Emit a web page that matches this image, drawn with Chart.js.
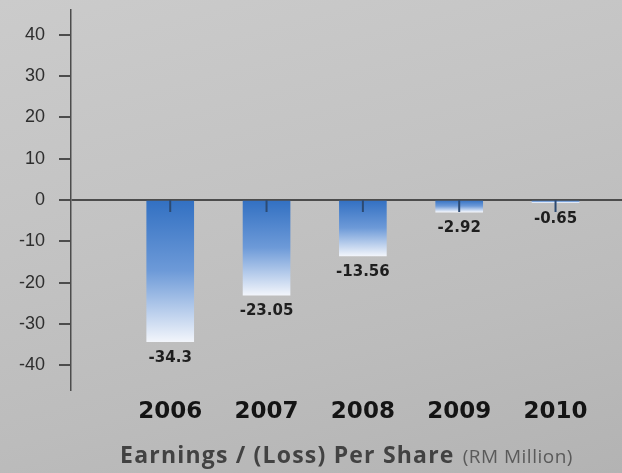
<!DOCTYPE html>
<html>
<head>
<meta charset="utf-8">
<title>Earnings / (Loss) Per Share</title>
<script src="https://cdn.jsdelivr.net/npm/chart.js@4.4.1/dist/chart.umd.min.js"></script>
<style>
  html, body { margin: 0; padding: 0; }
  body {
    width: 622px;
    height: 473px;
    overflow: hidden;
    background: linear-gradient(165deg, #cbcbcb 0%, #c3c3c3 40%, #bcbcbc 70%, #b3b3b3 100%);
  }
  #wrap { position: relative; width: 622px; height: 473px; }
</style>
</head>
<body>
<div id="wrap"><canvas id="epsChart"></canvas></div>
<script>
const years = ['2006', '2007', '2008', '2009', '2010'];
const eps = [-34.3, -23.05, -13.56, -2.92, -0.65];
const yTicks = [40, 30, 20, 10, 0, -10, -20, -30, -40];

const titleMain = 'Earnings / (Loss) Per Share';
const titleUnit = '(RM Million)';

const AXIS_COLOR = '#4c4c4c';

// blue fading to white, spanning each bar from the zero line down to its end
function barGradient(context) {
  const chart = context.chart;
  const { ctx, chartArea, scales } = chart;
  if (!chartArea || context.raw == null) return '#3a76c6';
  const y0 = scales.y.getPixelForValue(0);
  const y1 = scales.y.getPixelForValue(context.raw.y);
  if (Math.abs(y1 - y0) < 1) return '#7aa3dc';
  const g = ctx.createLinearGradient(0, y0, 0, y1);
  g.addColorStop(0, '#3270c2');
  g.addColorStop(0.5, '#6d9ad8');
  g.addColorStop(1, '#f2f5fb');
  return g;
}

// small dark tick under the zero line at each bar + value text below the bar end
const barMarks = {
  id: 'barMarks',
  afterDatasetsDraw(chart) {
    const { ctx, scales } = chart;
    const meta = chart.getDatasetMeta(0);
    const y0 = scales.y.getPixelForValue(0);
    ctx.save();
    meta.data.forEach((bar, i) => {
      ctx.strokeStyle = '#2c4a72';
      ctx.lineWidth = 2;
      ctx.beginPath();
      ctx.moveTo(bar.x, y0);
      ctx.lineTo(bar.x, y0 + 12);
      ctx.stroke();

      ctx.fillStyle = '#1e1e1e';
      ctx.font = 'bold 15px "DejaVu Sans"';
      ctx.textAlign = 'center';
      ctx.textBaseline = 'middle';
      ctx.fillText(String(eps[i]), bar.x, bar.y + 16);
    });
    ctx.restore();
  }
};

// caption under the year labels, two font styles on one line
const caption = {
  id: 'caption',
  afterDraw(chart) {
    const { ctx, chartArea } = chart;
    ctx.save();
    const mainFont = 'bold 23px "Open Sans"';
    const unitFont = '19px "Open Sans"';
    ctx.letterSpacing = '1.2px';
    ctx.font = mainFont;
    const wMain = ctx.measureText(titleMain).width;
    ctx.letterSpacing = '0.5px';
    ctx.font = unitFont;
    const wUnit = ctx.measureText(titleUnit).width;
    const gap = 8;
    const total = wMain + gap + wUnit;
    const cx = (chartArea.left + chartArea.right) / 2;
    const x = cx - total / 2;
    const baseY = 463;
    ctx.textBaseline = 'alphabetic';
    ctx.textAlign = 'left';
    ctx.letterSpacing = '1.2px';
    ctx.font = mainFont;
    ctx.fillStyle = '#424242';
    ctx.fillText(titleMain, x, baseY);
    ctx.letterSpacing = '0.5px';
    ctx.font = unitFont;
    ctx.fillStyle = '#5a5a5a';
    ctx.fillText(titleUnit, x + wMain + gap, baseY);
    ctx.restore();
  }
};

const points = years.map((yr, i) => ({ x: i + 1, y: eps[i] }));

new Chart(document.getElementById('epsChart'), {
  type: 'bar',
  data: {
    datasets: [{
      label: 'EPS',
      data: points,
      backgroundColor: barGradient,
      borderWidth: 0,
      barThickness: 47
    }]
  },
  options: {
    responsive: true,
    maintainAspectRatio: false,
    animation: false,
    layout: { padding: { top: 10, right: 0, bottom: 0, left: 0 } },
    plugins: {
      legend: { display: false },
      tooltip: { enabled: false },
      title: { display: false }
    },
    scales: {
      x: {
        type: 'linear',
        offset: false,
        min: -0.03,
        max: 5.69,
        afterBuildTicks: scale => { scale.ticks = years.map((_, i) => ({ value: i + 1 })); },
        afterFit: scale => {
          scale.height = 83;
          scale.paddingLeft = 0;
          scale.paddingRight = 0;
        },
        grid: { display: false },
        border: { display: false },
        ticks: {
          autoSkip: false,
          maxRotation: 0,
          padding: 0,
          color: '#141414',
          font: { family: 'DejaVu Sans', size: 23, weight: 'bold' },
          callback: v => years[v - 1]
        }
      },
      y: {
        min: -46,
        max: 46,
        afterBuildTicks: scale => { scale.ticks = yTicks.map(v => ({ value: v })); },
        afterFit: scale => {
          scale.width = 71;
          scale.paddingTop = 0;
          scale.paddingBottom = 0;
        },
        border: { display: true, color: AXIS_COLOR, width: 1.5 },
        grid: {
          drawOnChartArea: true,
          drawTicks: true,
          tickLength: 12,
          lineWidth: 2,
          tickColor: AXIS_COLOR,
          color: c => (c.tick && c.tick.value === 0 ? AXIS_COLOR : 'rgba(0,0,0,0)')
        },
        ticks: {
          padding: 14,
          color: '#2e2e2e',
          font: { family: 'Liberation Sans', size: 18 }
        }
      }
    }
  },
  plugins: [barMarks, caption]
});
</script>
</body>
</html>
